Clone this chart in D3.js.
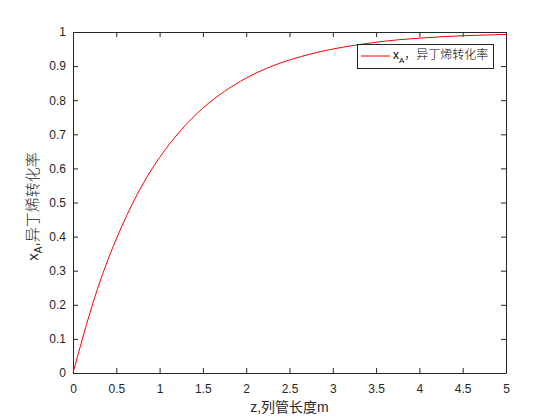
<!DOCTYPE html>
<html><head><meta charset="utf-8">
<script src="https://cdn.jsdelivr.net/npm/d3@7"></script>
<style>body{margin:0;background:#fff}svg{display:block}text{font-family:"Liberation Sans",Arial,"Noto Sans CJK SC",sans-serif}</style>
</head><body>
<script>
const zValues = [0,0.25,0.5,0.75,1,1.25,1.5,1.75,2,2.25,2.5,2.75,3,3.25,3.5,3.75,4,4.25,4.5,4.75,5];
const xAValues = [0,0.221,0.393,0.528,0.632,0.713,0.777,0.826,0.865,0.895,0.918,0.936,0.950,0.961,0.970,0.977,0.982,0.986,0.989,0.991,0.993];
const xTicks = [0,0.5,1,1.5,2,2.5,3,3.5,4,4.5,5];
const yTicks = [0,0.1,0.2,0.3,0.4,0.5,0.6,0.7,0.8,0.9,1];
const xLabelText = "z,列管长度m";
const yLabelMain = ",异丁烯转化率";
const legendText = "，异丁烯转化率";

const W=560,H=420;
const L=73,R=506,T=32,B=373;
const svg=d3.select("body").append("svg").attr("width",W).attr("height",H);
const x=d3.scaleLinear().domain([0,5]).range([L,R]);
const y=d3.scaleLinear().domain([0,1]).range([B,T]);
const ac="#262626";

const fmt=d=>String(d);
const gx=svg.append("g").attr("transform",`translate(0,${B})`).call(d3.axisBottom(x).tickValues(xTicks).tickFormat(fmt).tickSizeInner(-5).tickSizeOuter(0).tickPadding(11));
const gxt=svg.append("g").attr("transform",`translate(0,${T})`).call(d3.axisTop(x).tickValues(xTicks).tickFormat("").tickSizeInner(-5).tickSizeOuter(0));
const gy=svg.append("g").attr("transform",`translate(${L},0)`).call(d3.axisLeft(y).tickValues(yTicks).tickFormat(fmt).tickSizeInner(-5).tickSizeOuter(0).tickPadding(7));
const gyr=svg.append("g").attr("transform",`translate(${R},0)`).call(d3.axisRight(y).tickValues(yTicks).tickFormat("").tickSizeInner(-5).tickSizeOuter(0));
[gx,gxt,gy,gyr].forEach(g=>{
  g.selectAll("path").attr("stroke",ac).attr("stroke-width",1);
  g.selectAll("line").attr("stroke",ac).attr("stroke-width",1);
  g.selectAll("text").attr("fill",ac).attr("font-size",12).attr("font-family","Liberation Sans, Arial, sans-serif");
});
gx.selectAll("text").attr("dy","0.71em");

svg.append("path").datum(zValues.map((z,i)=>[z,xAValues[i]]))
  .attr("fill","none").attr("stroke","#ff0000").attr("stroke-width",1)
  .attr("d",d3.line().x(d=>x(d[0])).y(d=>y(d[1])).curve(d3.curveNatural));

svg.append("text").attr("x",(L+R)/2).attr("y",412).attr("text-anchor","middle")
  .attr("font-size",14).attr("fill",ac).attr("font-family","Liberation Sans, Arial, 'Noto Sans CJK SC', sans-serif").text(xLabelText);
const yl=svg.append("text").attr("transform",`translate(38,${(T+B)/2+4}) rotate(-90)`).attr("text-anchor","middle")
  .attr("font-size",15).attr("fill",ac).attr("font-family","Liberation Sans, Arial, 'Noto Sans CJK SC', sans-serif");
yl.append("tspan").text("x");
yl.append("tspan").attr("font-size",10).attr("dy",4).text("A");
yl.append("tspan").attr("dy",-4).attr("font-weight",300).text(yLabelMain);

const lg=svg.append("g");
lg.append("rect").attr("x",357.5).attr("y",44.5).attr("width",136).attr("height",24).attr("fill","#fff").attr("stroke",ac).attr("stroke-width",1);
lg.append("line").attr("x1",361).attr("x2",390).attr("y1",56).attr("y2",56).attr("stroke","#ff0000").attr("stroke-width",1);
const lt=lg.append("text").attr("x",393).attr("y",59).attr("font-size",12).attr("fill","#000").attr("font-family","Liberation Sans, Arial, 'Noto Sans CJK SC', sans-serif");
lt.append("tspan").text("x");
lt.append("tspan").attr("font-size",8).attr("dy",4).text("A");
lt.append("tspan").attr("dy",-4).attr("font-weight",300).text(legendText);
</script>
</body></html>
